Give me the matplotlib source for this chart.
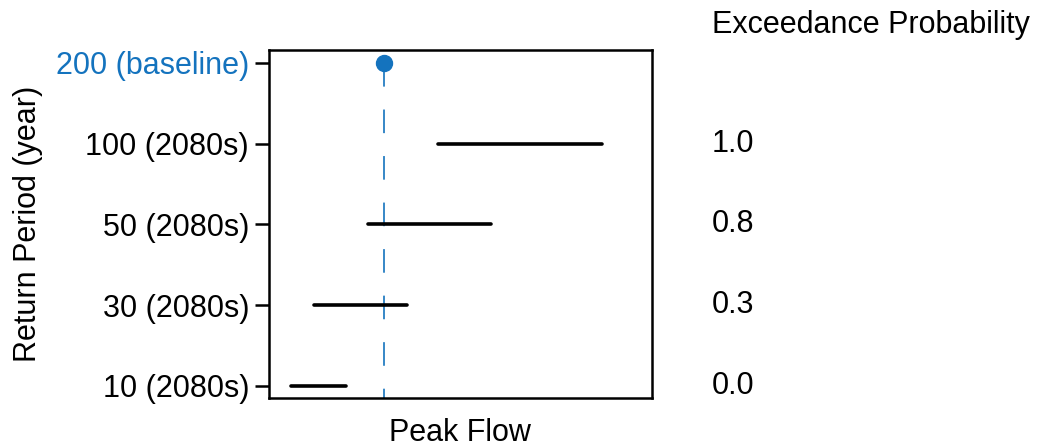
import matplotlib
matplotlib.use("Agg")
import matplotlib.pyplot as plt
from matplotlib.transforms import blended_transform_factory

plt.rcParams['font.family'] = ['Liberation Sans', 'DejaVu Sans']
plt.rcParams['lines.scale_dashes'] = False

categories = ["10 (2080s)", "30 (2080s)", "50 (2080s)", "100 (2080s)", "200 (baseline)"]
range_low = [5.9, 11.9, 26.0, 44.3]
range_high = [20.2, 36.2, 58.1, 87.1]
baseline_value = 30.2
exceedance = ["0.0", "0.3", "0.8", "1.0"]

blue = '#1473BE'
W, H = 1038, 448
fig = plt.figure(figsize=(W / 100, H / 100), dpi=100)
ax = fig.add_axes([268.5 / W, 1 - 398 / H, (651.7 - 268.5) / W, (398 - 50) / H])

ypos = list(range(len(categories)))
for i in range(len(range_low)):
    ax.plot([range_low[i], range_high[i]], [ypos[i], ypos[i]], color='black',
            lw=2.6, solid_capstyle='round', zorder=3)

ax.plot([baseline_value, baseline_value], [ypos[-1], -0.5], color=blue, lw=1.2,
        linestyle=(0, (17, 16.5)), zorder=2)
ax.plot([baseline_value], [ypos[-1]], 'o', color=blue, ms=11.5, zorder=4)

ax.set_xlim(0, 100)
ax.set_ylim(-0.15, 4.16)
ax.set_xticks([])
ax.set_yticks(ypos)
ax.set_yticklabels(categories, fontsize=22)
ax.get_yticklabels()[-1].set_color(blue)
ax.tick_params(axis='y', length=10, width=1.8, pad=4)
for s in ax.spines.values():
    s.set_linewidth(1.8)

trans = blended_transform_factory(fig.transFigure, ax.transData)
for i, t in enumerate(exceedance):
    fig.text(712 / W, ypos[i], t, transform=trans, fontsize=22, va='center', ha='left')
fig.text(712 / W, 1 - 25 / H, "Exceedance Probability", fontsize=22, va='center', ha='left')

fig.text(28 / W, 1 - 224 / H, "Return Period (year)", fontsize=22, rotation=90,
         va='center', ha='center')
fig.text(460 / W, 1 - 433 / H, "Peak Flow", fontsize=22, va='center', ha='center')

fig.savefig("out.png", dpi=100)
